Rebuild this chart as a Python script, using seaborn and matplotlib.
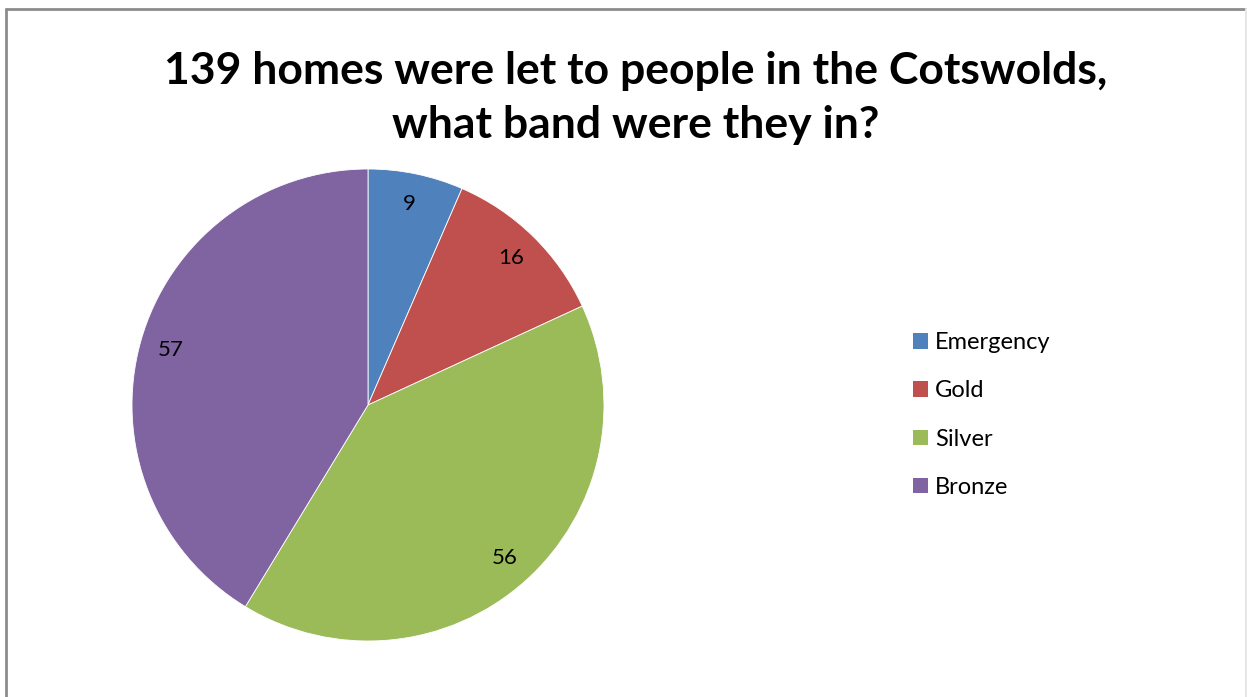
import matplotlib
matplotlib.use("Agg")
import matplotlib.pyplot as plt
import matplotlib.patches as mpatches
import matplotlib.lines as mlines
import seaborn as sns

# data
bands = ['Emergency', 'Gold', 'Silver', 'Bronze']
homes = [9, 16, 56, 57]
band_colors = ['#4F81BD', '#C0504D', '#9BBB59', '#8064A2']
title = "139 homes were let to people in the Cotswolds,\nwhat band were they in?"

sns.set_style("white")
plt.rcParams['font.family'] = ['Lato', 'DejaVu Sans']

W, H = 1247, 697
fig = plt.figure(figsize=(W / 100, H / 100), dpi=100)
fig.patch.set_facecolor('white')

# outer chart frame: grey top and left, faint right edge
top_y = 1 - 8.5 / H
left_x = 5.5 / W
right_x = 1245.5 / W
fig.lines.append(mlines.Line2D([left_x, right_x], [top_y, top_y], transform=fig.transFigure,
                               color='#8c8c8c', linewidth=2))
fig.lines.append(mlines.Line2D([left_x, left_x], [0, top_y], transform=fig.transFigure,
                               color='#8c8c8c', linewidth=2))
fig.lines.append(mlines.Line2D([right_x, right_x], [0, top_y], transform=fig.transFigure,
                               color='#e6e6e6', linewidth=1.5))

# pie centred at (368, 405) px with radius 236 px
cx, cy, r = 368, 405, 236
ax = fig.add_axes([(cx - r) / W, (H - cy - r) / H, 2 * r / W, 2 * r / H])
palette = sns.color_palette(band_colors)
wedges, texts = ax.pie(homes, labels=[str(v) for v in homes], colors=palette,
                       startangle=90, counterclock=False, labeldistance=0.87,
                       wedgeprops=dict(edgecolor='white', linewidth=0.6),
                       textprops=dict(fontsize=16, color='black'))
for t in texts:
    t.set_horizontalalignment('center')
    t.set_verticalalignment('center')
ax.set_aspect('equal')
ax.set_xlim(-1, 1)
ax.set_ylim(-1, 1)
ax.axis('off')

fig.text(636 / W, 1 - 98 / H, title, ha='center', va='center', color='black',
         fontsize=32, fontweight='bold', linespacing=1.45)

handles = [mpatches.Patch(facecolor=c, edgecolor='none') for c in palette]
leg = fig.legend(handles, bands, loc='center left',
                 bbox_to_anchor=(904 / W, 1 - 415 / H), frameon=False,
                 fontsize=17, labelspacing=1.15, handlelength=0.62, handleheight=0.62,
                 handletextpad=0.3, borderaxespad=0)
for t in leg.get_texts():
    t.set_color('black')

fig.savefig('out.png', dpi=100, facecolor='white')
